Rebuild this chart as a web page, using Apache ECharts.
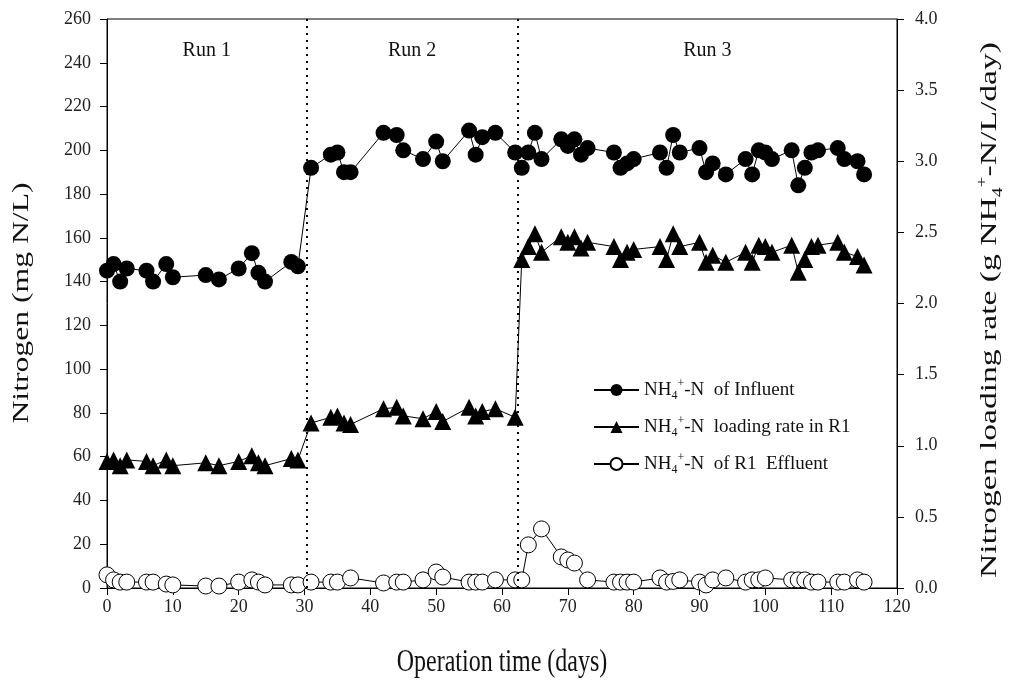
<!DOCTYPE html>
<html>
<head>
<meta charset="utf-8">
<script src="https://cdn.jsdelivr.net/npm/echarts@6/dist/echarts.min.js"></script>
<style>
html, body { margin: 0; padding: 0; background: #fff; }
#chart { width: 1013px; height: 686px; }
</style>
</head>
<body>
<div id="chart"></div>
<script>
// sampling days (operation time)
var days = [0, 1, 2, 3, 6, 7, 9, 10, 15, 17, 20, 22, 23, 24, 28, 29,
  31, 34, 35, 36, 37, 42, 44, 45, 48, 50, 51, 55, 56, 57, 59, 62,
  63, 64, 65, 66, 69, 70, 71, 72, 73, 77, 78, 79, 80, 84, 85, 86, 87, 90, 91, 92, 94,
  97, 98, 99, 100, 101, 104, 105, 106, 107, 108, 111, 112, 114, 115]

// NH4+-N of influent (mg N/L)
var influent = [145, 148, 140, 146, 145, 140, 148, 142, 143, 141, 146, 153, 144, 140, 149, 147,
  192, 198, 199, 190, 190, 208, 207, 200, 196, 204, 195, 209, 198, 206, 208, 199,
  192, 199, 208, 196, 205, 202, 205, 198, 201, 199, 192, 194, 196, 199, 192, 207, 199, 201, 190, 194, 189,
  196, 189, 200, 199, 196, 200, 184, 192, 199, 200, 201, 196, 195, 189]

// NH4+-N loading rate in R1 (g NH4+-N/L/day), right axis
var loadingRate = [0.89, 0.90, 0.86, 0.90, 0.89, 0.86, 0.90, 0.86, 0.88, 0.86, 0.89, 0.93, 0.88, 0.86, 0.91, 0.90,
  1.16, 1.20, 1.21, 1.16, 1.15, 1.26, 1.27, 1.21, 1.19, 1.24, 1.17, 1.27, 1.21, 1.24, 1.26, 1.20,
  2.31, 2.40, 2.49, 2.36, 2.47, 2.43, 2.47, 2.39, 2.43, 2.40, 2.31, 2.36, 2.38, 2.40, 2.31, 2.49, 2.40, 2.43, 2.29, 2.34, 2.29,
  2.36, 2.29, 2.41, 2.40, 2.36, 2.41, 2.22, 2.31, 2.40, 2.41, 2.43, 2.36, 2.33, 2.27]

// NH4+-N of R1 effluent (mg N/L)
var effluent = [6, 3.7, 2.7, 2.7, 2.7, 2.7, 1.8, 1.4, 0.9, 0.9, 2.7, 3.7, 2.7, 1.4, 1.4, 1.4,
  2.7, 2.7, 2.7, null, 4.6, 2.3, 2.7, 2.7, 3.7, 7.3, 5, 2.7, 2.7, 2.7, 3.7, 3.7,
  3.7, 19.7, null, 27, 14.2, 12.8, 11.4, null, 3.7, 2.7, 2.7, 2.7, 2.7, 4.6, 2.7, 3, 3.7, 2.7, 1.4, 3.7, 4.6,
  2.7, 3.7, 3.7, 4.6, null, 3.7, 3.7, 3.7, 2.7, 2.7, 2.7, 2.7, 3.7, 2.7]

var runNames = ['Run 1', 'Run 2', 'Run 3']
var runBounds = [0, 30.3, 62.4, 120]

var font = 'Liberation Serif'

function pairs (vals) {
  return days.map(function (d, i) { return [d, vals[i]] })
}

var runAreas = runNames.map(function (n, i) {
  return [{ xAxis: runBounds[i], name: n }, { xAxis: runBounds[i + 1] }]
})
var runLines = runBounds.slice(1, 3).map(function (v) { return { xAxis: v } })

var legendText = {
  'NH4+-N of Influent': '{n|NH}{s|4}{p|+}{n|-N  of Influent}',
  'NH4+-N loading rate in R1': '{n|NH}{s|4}{p|+}{n|-N  loading rate in R1}',
  'NH4+-N of R1 Effluent': '{n|NH}{s|4}{p|+}{n|-N  of R1  Effluent}'
}

var richSub = {
  n: { fontFamily: font, fontSize: 19, lineHeight: 24, color: '#111' },
  s: { fontFamily: font, fontSize: 12, lineHeight: 12, verticalAlign: 'bottom', color: '#111' },
  p: { fontFamily: font, fontSize: 12, lineHeight: 12, verticalAlign: 'top', color: '#111' }
}

var lineStyle = { color: '#000', width: 1 }
var axisCommon = {
  axisLine: { show: true, lineStyle: { color: '#000', width: 1 } },
  axisTick: { show: true, inside: false, length: 7, lineStyle: { color: '#000' } },
  splitLine: { show: false }
}

// the original figure is drawn taller than wide, so titles get stretched
function title (text, x, y, rot, stretch, rich) {
  return {
    type: 'text',
    x: x,
    y: y,
    rotation: rot ? Math.PI / 2 : 0,
    scaleX: rot ? stretch : 1,
    scaleY: rot ? 1 : stretch,
    silent: true,
    style: {
      text: text,
      font: '24px "' + font + '"',
      fill: '#111',
      textAlign: 'center',
      textVerticalAlign: 'middle',
      align: 'center',
      verticalAlign: 'middle',
      rich: rich
    }
  }
}

var chart = echarts.init(document.getElementById('chart'))
chart.setOption({
  animation: false,
  backgroundColor: '#fff',
  grid: { left: 107, right: 116, top: 19, bottom: 98, show: true, borderColor: '#000', borderWidth: 1, backgroundColor: 'transparent' },
  graphic: [
    title('Nitrogen (mg N/L)', 22, 303, true, 1.32),
    title('{n|Nitrogen loading rate (g NH}{s|4}{p|+}{n|-N/L/day)}', 990, 310, true, 1.4, {
      n: { fontFamily: font, fontSize: 24, lineHeight: 30, fill: '#111' },
      s: { fontFamily: font, fontSize: 14, lineHeight: 14, verticalAlign: 'bottom', fill: '#111' },
      p: { fontFamily: font, fontSize: 14, lineHeight: 14, verticalAlign: 'top', fill: '#111' }
    }),
    title('Operation time (days)', 502, 663, false, 1.32)
  ],
  legend: {
    orient: 'vertical',
    left: 588,
    top: 373,
    itemWidth: 45,
    itemHeight: 15,
    itemGap: 13,
    data: ['NH4+-N of Influent', 'NH4+-N loading rate in R1', 'NH4+-N of R1 Effluent'],
    formatter: function (name) { return legendText[name] },
    textStyle: { fontFamily: font, fontSize: 19, color: '#111', rich: richSub }
  },
  xAxis: Object.assign({
    type: 'value',
    min: 0,
    max: 120,
    interval: 10,
    axisLabel: { fontFamily: font, fontSize: 18, color: '#222', margin: 10 }
  }, axisCommon),
  yAxis: [
    Object.assign({
      type: 'value',
      position: 'left',
      min: 0,
      max: 260,
      interval: 20,
      axisLabel: { fontFamily: font, fontSize: 18, color: '#222', margin: 16 }
    }, axisCommon),
    Object.assign({
      type: 'value',
      position: 'right',
      min: 0,
      max: 4,
      interval: 0.5,
      axisLabel: { fontFamily: font, fontSize: 18, color: '#222', margin: 18, formatter: function (v) { return v.toFixed(1) } }
    }, axisCommon)
  ],
  series: [
    {
      name: 'NH4+-N of Influent',
      type: 'line',
      yAxisIndex: 0,
      data: pairs(influent),
      symbol: 'circle',
      symbolSize: 16,
      connectNulls: true,
      itemStyle: { color: '#000' },
      lineStyle: lineStyle,
      z: 3,
      markLine: {
        silent: true,
        symbol: 'none',
        label: { show: false },
        lineStyle: { color: '#000', width: 2, type: [2, 5] },
        data: runLines
      },
      markArea: {
        silent: true,
        itemStyle: { color: 'rgba(0,0,0,0)' },
        label: { show: true, position: 'insideTop', distance: 22, fontFamily: font, fontSize: 20, color: '#111' },
        data: runAreas
      }
    },
    {
      name: 'NH4+-N loading rate in R1',
      type: 'line',
      yAxisIndex: 1,
      data: pairs(loadingRate),
      symbol: 'triangle',
      symbolSize: 17,
      connectNulls: true,
      itemStyle: { color: '#000' },
      lineStyle: lineStyle,
      z: 3
    },
    {
      name: 'NH4+-N of R1 Effluent',
      type: 'line',
      yAxisIndex: 0,
      data: pairs(effluent),
      symbol: 'circle',
      symbolSize: 16,
      connectNulls: true,
      itemStyle: { color: '#fff', borderColor: '#000', borderWidth: 1 },
      lineStyle: lineStyle,
      z: 4
    }
  ]
})
</script>
</body>
</html>
